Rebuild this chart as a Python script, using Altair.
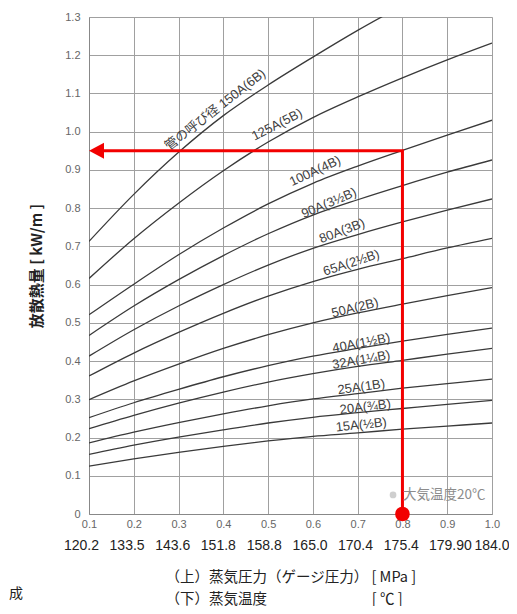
import altair as alt
import pandas as pd

# ---- data ----
pressures = [0.1, 0.2, 0.3, 0.4, 0.5, 0.6, 0.7, 0.8, 0.9, 1.0]
temperatures = ["120.2", "133.5", "143.6", "151.8", "158.8", "165.0", "170.4", "175.4", "179.90", "184.0"]

pipe_sizes = ["150A", "125A", "100A", "90A", "80A", "65A", "50A", "40A", "32A", "25A", "20A", "15A"]

q150 = [0.713, 0.836, 0.946, 1.042, 1.122, 1.195, 1.265, 1.330]
q125 = [0.616, 0.720, 0.813, 0.898, 0.973, 1.037, 1.091, 1.141, 1.188, 1.232]
q100 = [0.521, 0.601, 0.678, 0.748, 0.811, 0.865, 0.910, 0.951, 0.991, 1.030]
q90 = [0.467, 0.544, 0.613, 0.676, 0.733, 0.782, 0.822, 0.859, 0.894, 0.926]
q80 = [0.413, 0.482, 0.544, 0.600, 0.651, 0.695, 0.731, 0.764, 0.795, 0.824]
q65 = [0.361, 0.421, 0.475, 0.525, 0.570, 0.608, 0.640, 0.668, 0.696, 0.721]
q50 = [0.299, 0.348, 0.392, 0.433, 0.469, 0.500, 0.526, 0.549, 0.571, 0.592]
q40 = [0.252, 0.291, 0.326, 0.359, 0.388, 0.413, 0.433, 0.452, 0.470, 0.486]
q32 = [0.223, 0.258, 0.290, 0.319, 0.345, 0.367, 0.386, 0.402, 0.418, 0.433]
q25 = [0.186, 0.214, 0.239, 0.262, 0.283, 0.301, 0.315, 0.329, 0.341, 0.353]
q20 = [0.156, 0.180, 0.201, 0.220, 0.238, 0.253, 0.265, 0.276, 0.287, 0.297]
q15 = [0.125, 0.144, 0.161, 0.177, 0.191, 0.203, 0.212, 0.222, 0.230, 0.238]
series = [q150, q125, q100, q90, q80, q65, q50, q40, q32, q25, q20, q15]

label_texts = ["管の呼び径 150A(6B)", "125A(5B)", "100A(4B)", "90A(3½B)", "80A(3B)", "65A(2½B)",
               "50A(2B)", "40A(1½B)", "32A(1¼B)", "25A(1B)", "20A(¾B)", "15A(½B)"]
label_p = [0.382, 0.520, 0.605, 0.636, 0.665, 0.686, 0.694, 0.708, 0.708, 0.708, 0.717, 0.708]
label_q = [1.057, 1.018, 0.897, 0.813, 0.740, 0.657, 0.539, 0.447, 0.403, 0.332, 0.280, 0.233]
label_angle = [322, 333, 335, 337, 339, 342, 346, 349, 350, 352, 353, 354]

# temperature row: small horizontal shifts (px) of each label, as set in the reference
temp_shift_px = [-7.6, -6.7, -5.8, -5.0, -3.9, -2.8, -2.2, -1.1, 3.2, 0.0]

# example reading: 0.8 MPa -> 0.95 kW/m
arrow_p = [0.8, 0.8, 0.125]
arrow_q = [0.0, 0.95, 0.95]
arrow_order = [0, 1, 2]
example_p = [0.8]
example_q = [0.0]
head_p = [0.1]
head_q = [0.95]

note_text = ["大気温度20℃"]
note_p = [0.801]
note_q = [0.05]
note_dot_p = [0.779]

y_ticks = [0, 0.1, 0.2, 0.3, 0.4, 0.5, 0.6, 0.7, 0.8, 0.9, 1.0, 1.1, 1.2, 1.3]

# ---- tables ----
W, H = 403, 497
rows = []
for name, vals in zip(pipe_sizes, series):
    for p, q in zip(pressures, vals):
        rows.append({"size": name, "p": p, "q": q})
curves = pd.DataFrame(rows)
labels = pd.DataFrame({"text": label_texts, "p": label_p, "q": label_q, "angle": label_angle})
temps = pd.DataFrame({"p": pressures, "t": temperatures, "shift": temp_shift_px})
arrow = pd.DataFrame({"p": arrow_p, "q": arrow_q, "i": arrow_order})
dot = pd.DataFrame({"p": example_p, "q": example_q})
head = pd.DataFrame({"p": head_p, "q": head_q})
note = pd.DataFrame({"text": note_text, "p": note_p, "q": note_q})
note_dot = pd.DataFrame({"p": note_dot_p, "q": note_q})

LATIN = "'Liberation Sans', Arial, sans-serif"
CJK = "'Noto Sans CJK JP', sans-serif"
MIX = "'Liberation Sans', 'Noto Sans CJK JP', sans-serif"
GRID = "#a0a0a0"
RED = "#f20000"

x_title = ["（上）蒸気圧力（ゲージ圧力） [ MPa ]",
           "（下）蒸気温度" + "\u3000" * 7 + " [ ℃ ]"]

x_axis = alt.Axis(values=pressures, format=".1f", ticks=False, grid=True, gridColor=GRID,
                  domainColor="#888", labelColor="#666", labelFontSize=11, labelFont=LATIN,
                  labelPadding=4, labelFlush=False,
                  title=x_title, titleFont=CJK, titleFontSize=14.5,
                  titleFontWeight="normal", titleColor="#222", titleAlign="left",
                  titleX=76, titleY=56, titleBaseline="top", titleLineHeight=22)
y_axis = alt.Axis(values=y_ticks, labelExpr="datum.value == 0 ? '0' : format(datum.value, '.1f')",
                  ticks=False, grid=True, gridColor=GRID, domainColor="#888",
                  labelColor="#666", labelFontSize=11, labelFont=LATIN, labelPadding=9,
                  labelFlush=False,
                  title="放散熱量 [ kW/m ]", titleFont=CJK, titleFontSize=15,
                  titleFontWeight="bold", titleColor="#222", titlePadding=20)

X = alt.X("p:Q", scale=alt.Scale(domain=[0.1, 1.0], nice=False, zero=False), axis=x_axis)
Y = alt.Y("q:Q", scale=alt.Scale(domain=[0, 1.3], nice=False), axis=y_axis)

lines = alt.Chart(curves).mark_line(color="#3a3a3a", strokeWidth=1.3, interpolate="monotone",
                                    clip=True).encode(x=X, y=Y, detail="size:N")

curve_labels = alt.Chart(labels).mark_text(font=MIX, fontSize=13, color="#404040",
                                           baseline="middle", align="center").encode(
    x=X, y=Y, text="text:N", angle=alt.Angle("angle:Q", scale=None))

temp_labels = alt.Chart(temps).transform_calculate(
    pp=f"datum.p + datum.shift * 0.9 / {W}"
).mark_text(font=LATIN, fontSize=14, color="#222", baseline="middle").encode(
    x=alt.X("pp:Q", scale=alt.Scale(domain=[0.1, 1.0], nice=False, zero=False), axis=x_axis),
    y=alt.value(529), text="t:N")

red_line = alt.Chart(arrow).mark_line(color=RED, strokeWidth=3, strokeCap="butt",
                                      strokeJoin="miter").encode(
    x=X, y=Y, order=alt.Order("i:Q"))

red_dot = alt.Chart(dot).mark_circle(color=RED, size=215, opacity=1).encode(x=X, y=Y)

red_head = alt.Chart(head).mark_point(shape="M0,0 L2,-1.07 L2,1.07 Z", filled=True,
                                      size=225, color=RED, opacity=1, strokeWidth=0).encode(x=X, y=Y)

note_circle = alt.Chart(note_dot).mark_circle(color="#cfcfcf", size=45, opacity=1).encode(x=X, y=Y)
note_label = alt.Chart(note).mark_text(font=CJK, fontSize=13.5, color="#8c8c8c", align="left",
                                       baseline="middle").encode(x=X, y=Y, text="text:N")

corner = alt.Chart(pd.DataFrame({"t": ["成"]})).mark_text(font=CJK, fontSize=14, color="#222",
                                                          align="left", baseline="middle").encode(
    x=alt.value(-80), y=alt.value(577), text="t:N")

chart = alt.layer(lines, curve_labels, temp_labels, red_line, red_head, red_dot,
                  note_circle, note_label, corner).properties(
    width=W, height=H,
    autosize=alt.AutoSizeParams(type="none"),
    padding={"left": 81, "top": 9, "right": 17, "bottom": 92},
).configure_view(stroke=GRID).configure(background="white")

chart.save("out.html", embed_options={"renderer": "svg", "actions": False})
